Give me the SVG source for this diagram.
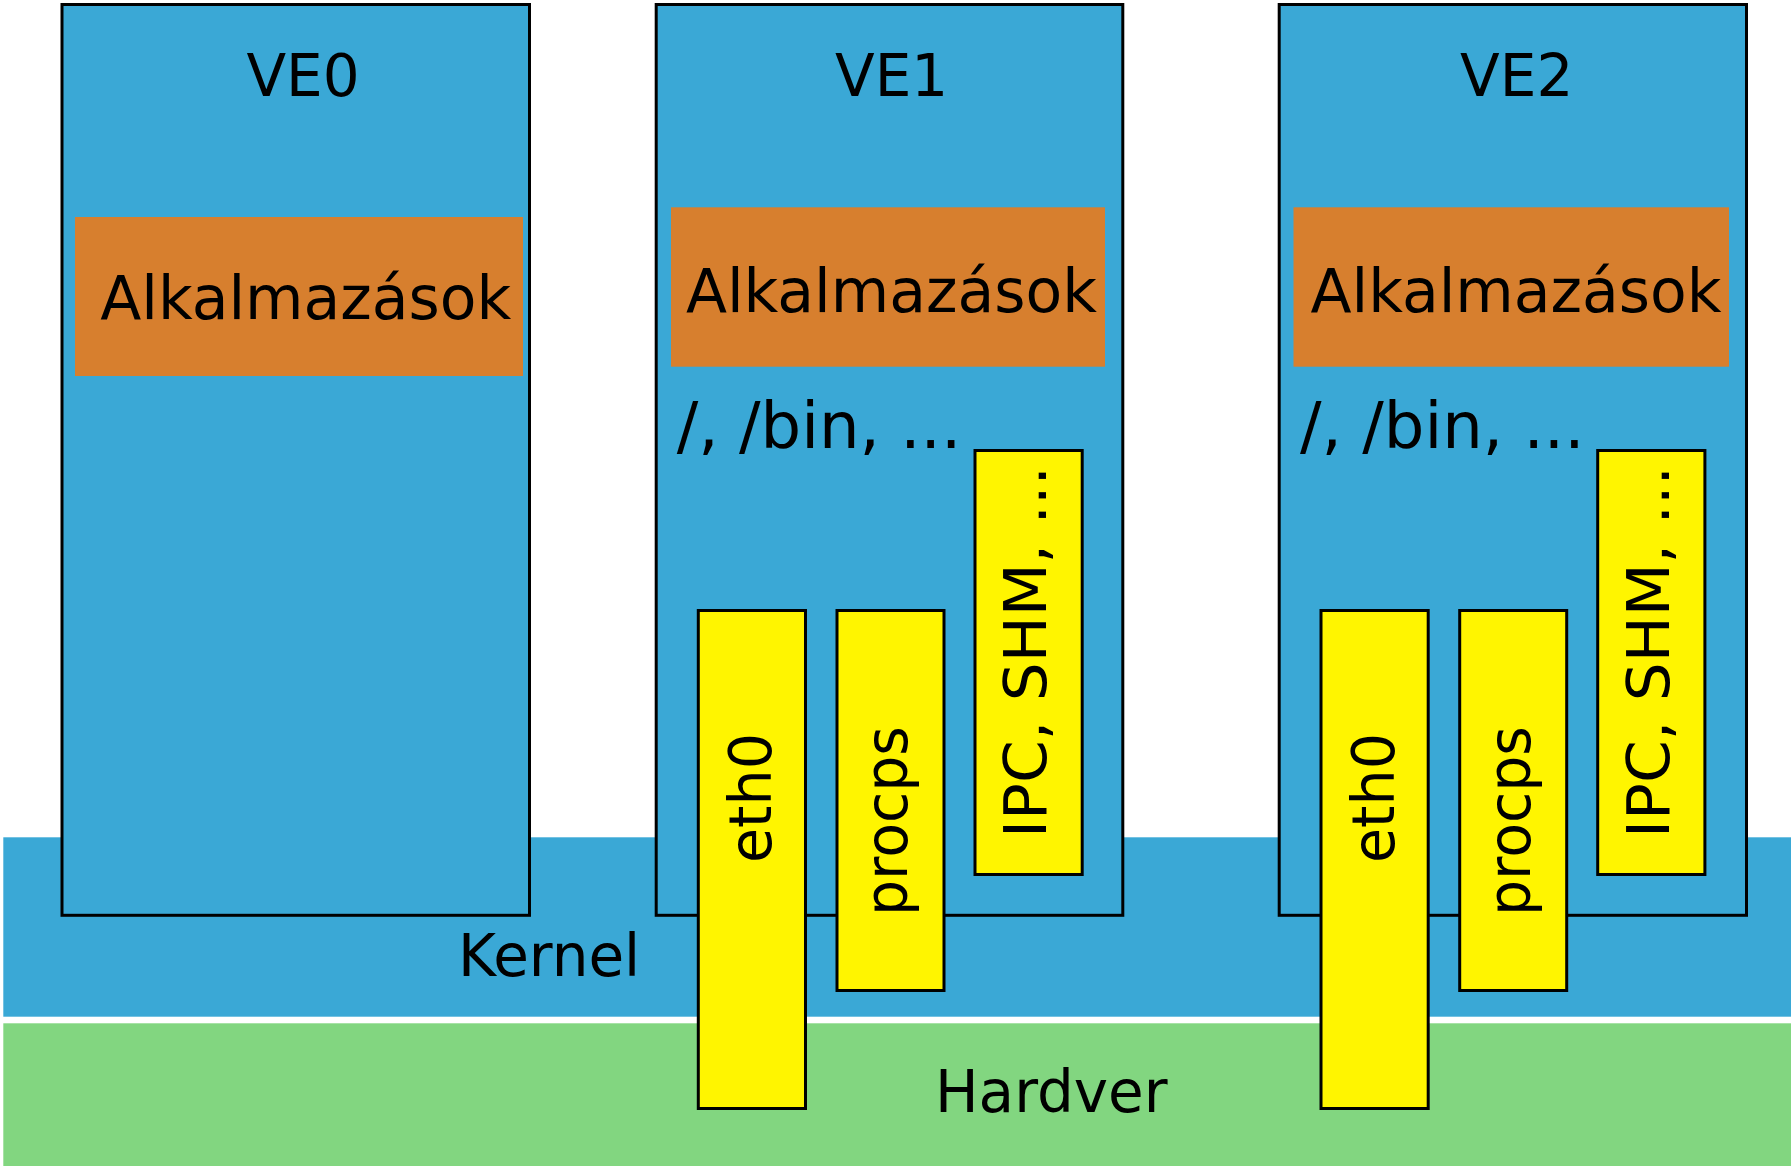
<svg xmlns="http://www.w3.org/2000/svg" width="1792" height="1167" viewBox="0 0 1792 1167">
  <style>
    .layer-kernel { fill: #3AA8D6; }
    .layer-hw { fill: #82D680; }
    .ve { fill: #3AA8D6; stroke: #000; stroke-width: 3; }
    .app { fill: #D77F2E; }
    .ns { fill: #FFF500; stroke: #000; stroke-width: 3; }
    text { font-family: "DejaVu Sans", Verdana, sans-serif; fill: #000; }
    .lbl { font-size: 58px; text-anchor: middle; }
    .app-t { font-size: 60px; text-anchor: middle; }
    .fs { font-size: 64px; }
    .vt { font-size: 58px; text-anchor: middle; }
    .layer-t { font-size: 58px; }
  </style>
  <rect width="1792" height="1167" fill="#FFFFFF"/>

  <g id="kernel">
    <rect class="layer-kernel" x="3.3" y="837.3" width="1787.7" height="179.4"/>
    <text class="layer-t" x="458" y="976">Kernel</text>
  </g>
  <g id="hardver">
    <rect class="layer-hw" x="3.3" y="1023.3" width="1787.7" height="142.7"/>
    <text class="layer-t" x="935" y="1112">Hardver</text>
  </g>

  <g id="ve0">
    <rect class="ve" x="62" y="4.5" width="467.5" height="910.8"/>
    <text class="lbl" x="303" y="95.7">VE0</text>
    <g id="ve0-apps">
      <rect class="app" x="75" y="217" width="448" height="159"/>
      <text class="app-t" x="305.8" y="319.3">Alkalmazások</text>
    </g>
  </g>

  <g id="ve1">
    <rect class="ve" x="656.2" y="4.5" width="466.6" height="910.8"/>
    <text class="lbl" x="891.6" y="95.7">VE1</text>
    <g id="ve1-apps">
      <rect class="app" x="671" y="207.3" width="434" height="159.4"/>
      <text class="app-t" x="891.4" y="311.7">Alkalmazások</text>
    </g>
    <text class="fs" x="676.8" y="448.3">/, /bin, ...</text>
  </g>

  <g id="ve2">
    <rect class="ve" x="1279.2" y="4.5" width="467.3" height="910.8"/>
    <text class="lbl" x="1516.7" y="95.7">VE2</text>
    <g id="ve2-apps">
      <rect class="app" x="1293.5" y="207.3" width="435.5" height="159.4"/>
      <text class="app-t" x="1516" y="311.7">Alkalmazások</text>
    </g>
    <text class="fs" x="1300" y="448.3">/, /bin, ...</text>
  </g>

  <g id="ve1-eth0">
    <rect class="ns" x="698.3" y="610.5" width="107.2" height="498"/>
    <text class="vt" transform="translate(771.4 798) rotate(-90)" textLength="130" lengthAdjust="spacingAndGlyphs">eth0</text>
  </g>
  <g id="ve1-procps">
    <rect class="ns" x="837" y="610.5" width="107" height="380"/>
    <text class="vt" transform="translate(907 821) rotate(-90)" textLength="190" lengthAdjust="spacingAndGlyphs">procps</text>
  </g>
  <g id="ve1-ipc">
    <rect class="ns" x="975" y="450.5" width="107.2" height="424"/>
    <text class="vt" transform="translate(1046 652) rotate(-90)" textLength="372" lengthAdjust="spacingAndGlyphs">IPC, SHM, ...</text>
  </g>

  <g id="ve2-eth0">
    <rect class="ns" x="1321" y="610.5" width="107.2" height="498"/>
    <text class="vt" transform="translate(1394.1 798) rotate(-90)" textLength="130" lengthAdjust="spacingAndGlyphs">eth0</text>
  </g>
  <g id="ve2-procps">
    <rect class="ns" x="1459.7" y="610.5" width="107" height="380"/>
    <text class="vt" transform="translate(1529.7 821) rotate(-90)" textLength="190" lengthAdjust="spacingAndGlyphs">procps</text>
  </g>
  <g id="ve2-ipc">
    <rect class="ns" x="1597.7" y="450.5" width="107.2" height="424"/>
    <text class="vt" transform="translate(1668.7 652) rotate(-90)" textLength="372" lengthAdjust="spacingAndGlyphs">IPC, SHM, ...</text>
  </g>

  <g id="connectors"></g>
</svg>
